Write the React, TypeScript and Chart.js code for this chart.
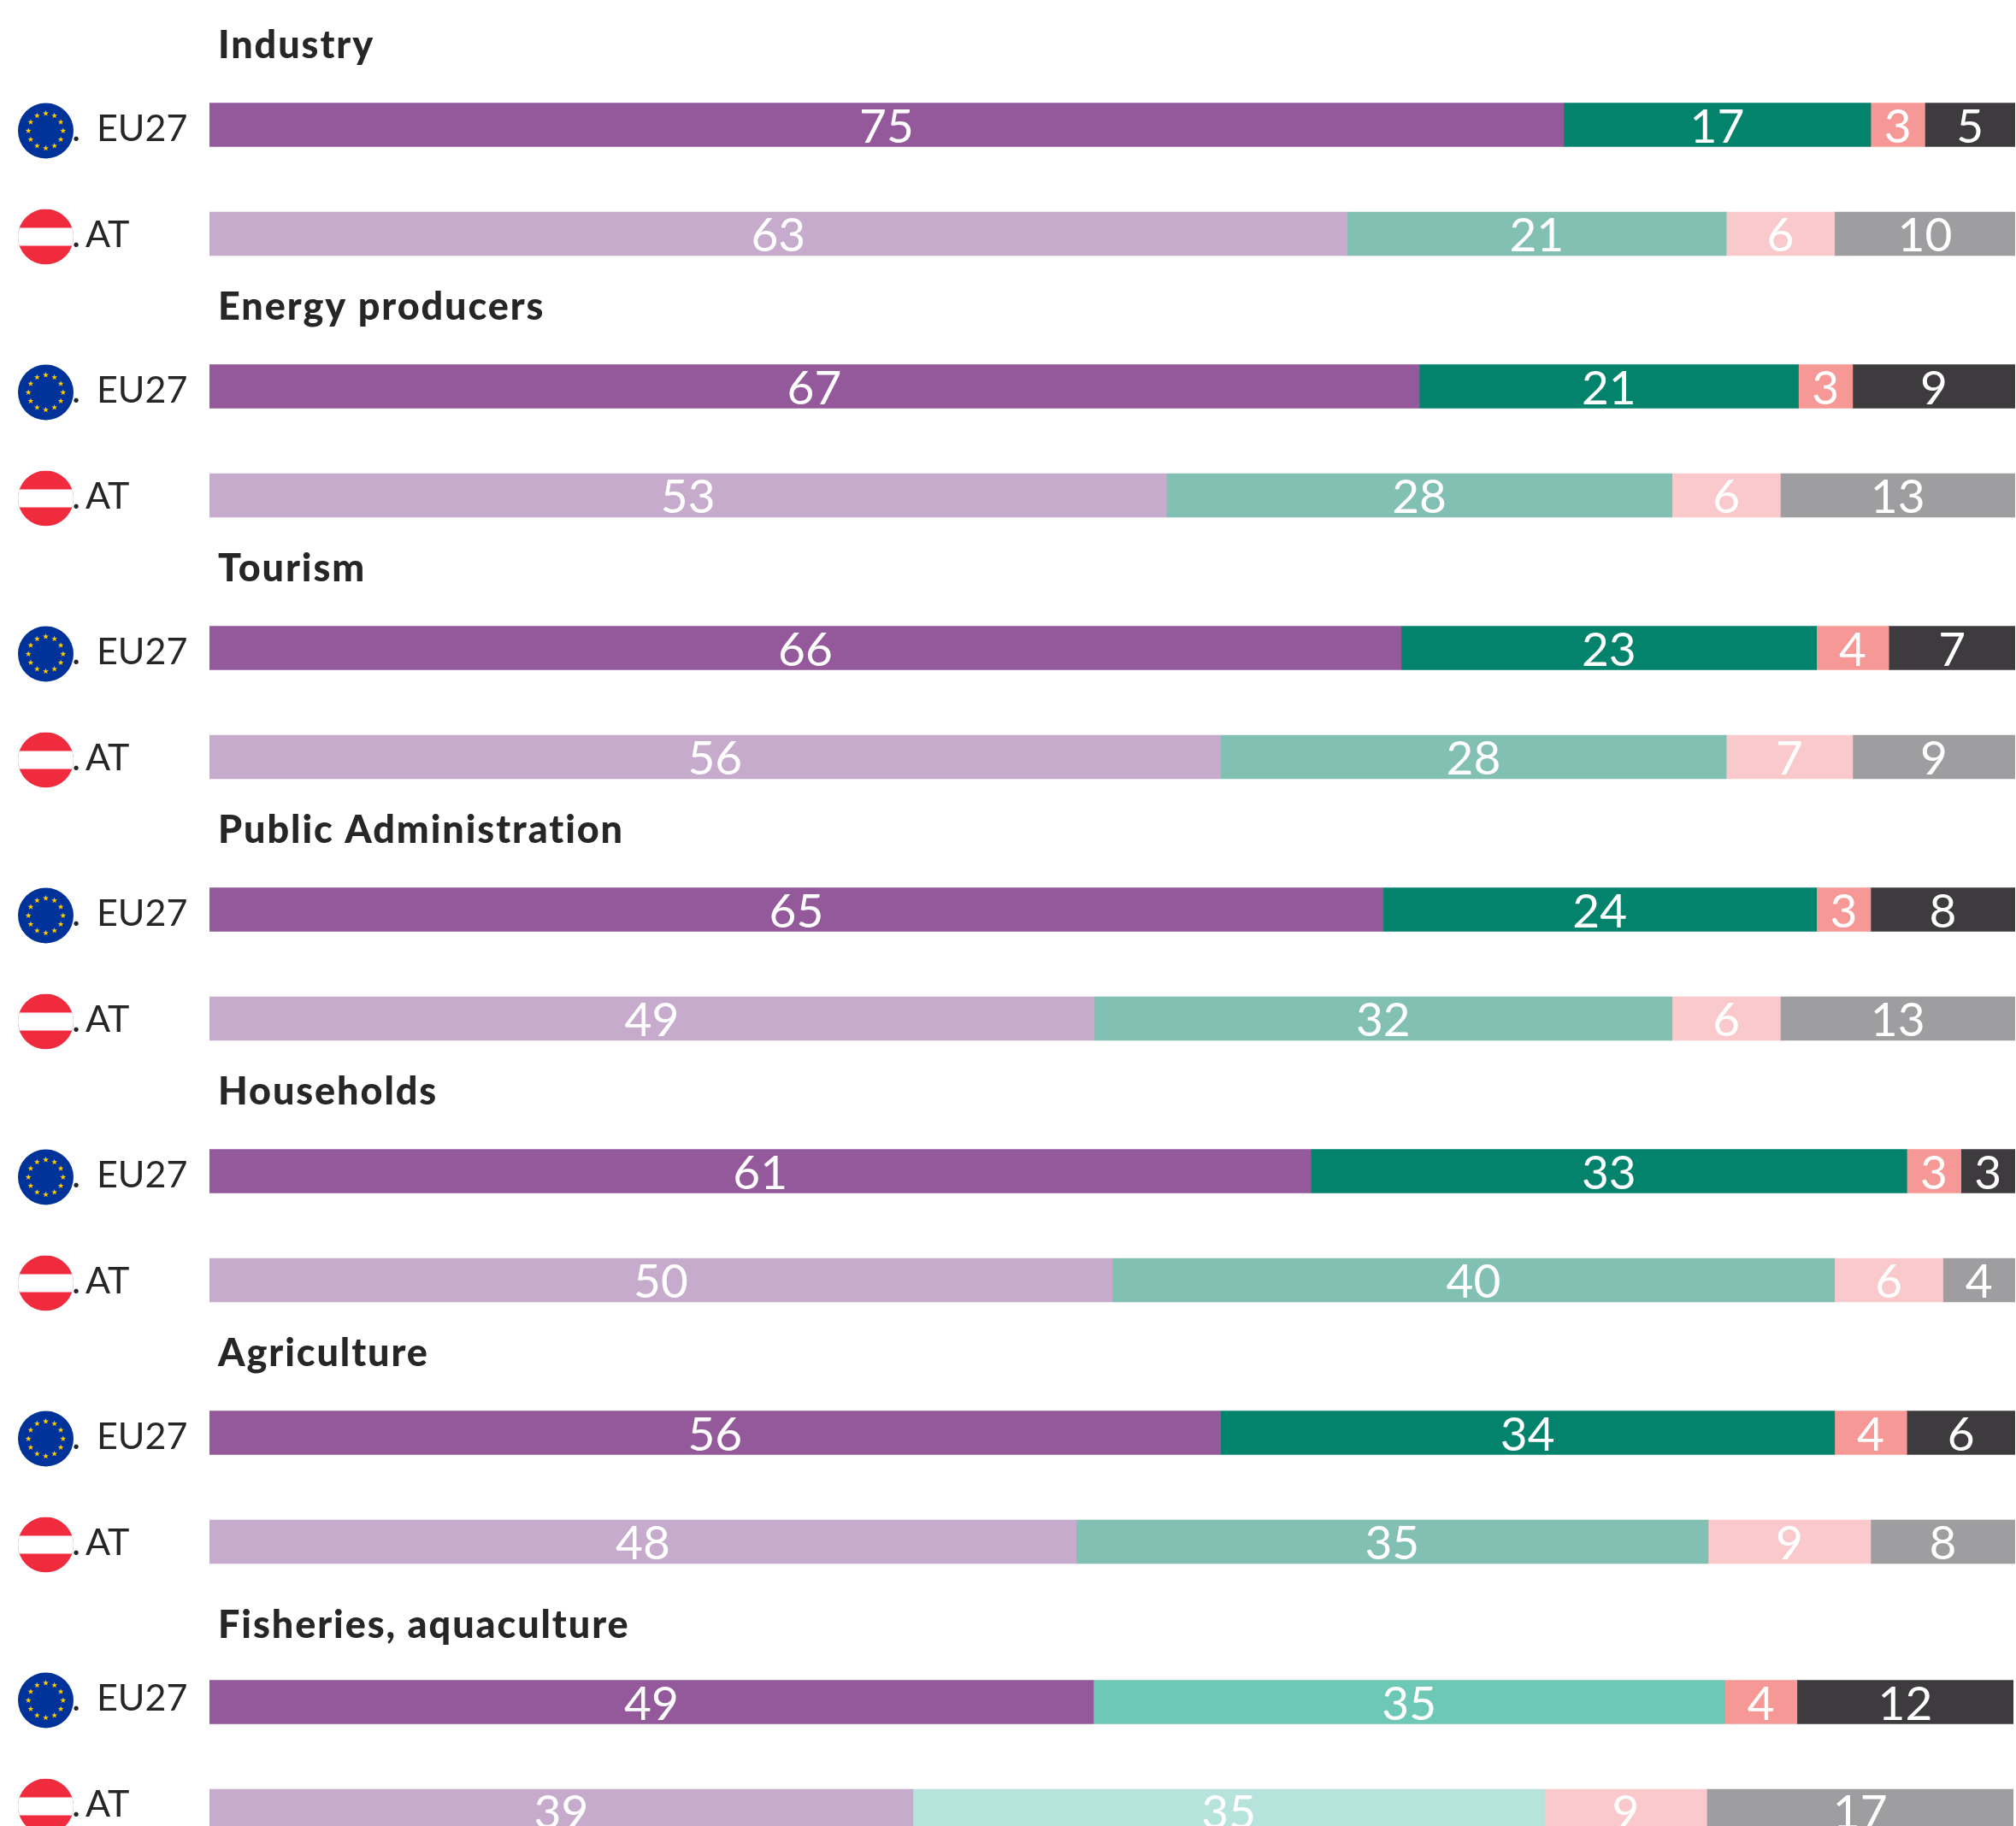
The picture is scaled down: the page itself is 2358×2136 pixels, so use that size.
import React, { useEffect, useRef } from "react";
import { Chart, registerables } from "chart.js";

Chart.register(...registerables);

const sectors = [
  "Industry",
  "Energy producers",
  "Tourism",
  "Public Administration",
  "Households",
  "Agriculture",
  "Fisheries, aquaculture",
];
const countries = ["EU27", "AT"];

// Each series holds [EU27, AT] pairs, one pair per sector.
const purpleValues = [[75, 63], [67, 53], [66, 56], [65, 49], [61, 50], [56, 48], [49, 39]];
const greenValues = [[17, 21], [21, 28], [23, 28], [24, 32], [33, 40], [34, 35], [35, 35]];
const pinkValues = [[3, 6], [3, 6], [4, 7], [3, 6], [3, 6], [4, 9], [4, 9]];
const greyValues = [[5, 10], [9, 13], [7, 9], [8, 13], [3, 4], [6, 8], [12, 17]];

const purpleColors = ["#93599B", "#C6ABCD"];
const greenColors = ["#03836B", "#82C0B3"];
const lightGreenColors = ["#6EC8B6", "#B6E3DC"];
const pinkColors = ["#F69896", "#F9C9CB"];
const greyColors = ["#3E3B3F", "#9E9EA0"];

const FONT = "Lato, 'Noto Sans', sans-serif";
const INK = "#262626";
const GROUP_STEP = 306;
const CANVAS_H = 350;
const PLOT_LEFT = 245;
const BAND = 127.5;
const PLOT_TOP = 82.25;

function drawStar(ctx: CanvasRenderingContext2D, cx: number, cy: number, r: number) {
  ctx.beginPath();
  for (let i = 0; i < 10; i++) {
    const rad = i % 2 === 0 ? r : r * 0.4;
    const a = -Math.PI / 2 + (i * Math.PI) / 5;
    const x = cx + rad * Math.cos(a);
    const y = cy + rad * Math.sin(a);
    if (i === 0) ctx.moveTo(x, y);
    else ctx.lineTo(x, y);
  }
  ctx.closePath();
  ctx.fill();
}

function drawEuFlag(ctx: CanvasRenderingContext2D, cx: number, cy: number, r: number) {
  ctx.fillStyle = "#003399";
  ctx.beginPath();
  ctx.arc(cx, cy, r, 0, Math.PI * 2);
  ctx.fill();
  ctx.fillStyle = "#FFCC00";
  for (let i = 0; i < 12; i++) {
    const a = (i * Math.PI) / 6;
    drawStar(ctx, cx + 20.3 * Math.cos(a), cy + 20.3 * Math.sin(a), 3.6);
  }
}

function drawAtFlag(ctx: CanvasRenderingContext2D, cx: number, cy: number, r: number) {
  ctx.save();
  ctx.beginPath();
  ctx.arc(cx, cy, r, 0, Math.PI * 2);
  ctx.clip();
  ctx.fillStyle = "#EF2B3D";
  ctx.fillRect(cx - r, cy - r, r * 2, r * 2);
  ctx.fillStyle = "#FFFFFF";
  ctx.fillRect(cx - r, cy - r + 22, r * 2, 21);
  ctx.restore();
}

type Props = { index: number };

function SectorChart({ index }: Props) {
  const ref = useRef<HTMLCanvasElement | null>(null);
  const last = index === sectors.length - 1;
  const barShift = last ? 9 : 0;
  const headerShift = last ? 12 : 0;
  const plotRight = last ? 3 : 1;

  useEffect(() => {
    if (!ref.current) return;
    const overlay = {
      id: "overlay",
      afterDatasetsDraw(chart: any) {
        const { ctx } = chart;
        const yScale = chart.scales.y;
        ctx.save();
        // Value labels
        ctx.font = `400 55px ${FONT}`;
        ctx.fillStyle = "#FFFFFF";
        ctx.textAlign = "center";
        ctx.textBaseline = "middle";
        chart.data.datasets.forEach((ds: any, d: number) => {
          chart.getDatasetMeta(d).data.forEach((el: any, i: number) => {
            const cx = (el.base + el.x) / 2;
            ctx.fillText(String(ds.data[i]), cx, el.y + 3);
          });
        });
        // Sector heading
        ctx.font = `900 45px ${FONT}`;
        ctx.letterSpacing = "1.9px";
        ctx.fillStyle = INK;
        ctx.textAlign = "left";
        ctx.textBaseline = "alphabetic";
        ctx.fillText(sectors[index], 255, 68 + headerShift);
        ctx.letterSpacing = "0px";
        // Country labels and flags
        const labels = yScale.getLabels();
        labels.forEach((label: string, i: number) => {
          const y = yScale.getPixelForValue(i) - barShift;
          ctx.font = `400 43px ${FONT}`;
          ctx.fillStyle = INK;
          ctx.textBaseline = "alphabetic";
          ctx.textAlign = "left";
          const isEu = label === countries[0];
          const base = isEu ? y + 19 : y + 15;
          ctx.fillText(label, isEu ? 113 : 100, base);
          ctx.fillText(".", 84, isEu ? y + 19 : y + 15);
          if (isEu) drawEuFlag(ctx, 53.5, y + 7, 32.5);
          else drawAtFlag(ctx, 53.5, y + 3.5, 32.5);
        });
        ctx.restore();
      },
    };
    const green = last ? lightGreenColors : greenColors;
    const chart = new Chart(ref.current, {
      type: "bar",
      data: {
        labels: countries,
        datasets: [
          { label: "purple", data: purpleValues[index], backgroundColor: purpleColors },
          { label: "green", data: greenValues[index], backgroundColor: green },
          { label: "pink", data: pinkValues[index], backgroundColor: pinkColors },
          { label: "grey", data: greyValues[index], backgroundColor: greyColors },
        ],
      },
      options: {
        indexAxis: "y",
        animation: false,
        responsive: false,
        devicePixelRatio: 1,
        barThickness: 51,
        layout: {
          padding: {
            left: 0,
            right: plotRight,
            top: PLOT_TOP + barShift,
            bottom: CANVAS_H - (PLOT_TOP + barShift + BAND * 2),
          },
        },
        plugins: { legend: { display: false }, tooltip: { enabled: false } },
        scales: {
          x: { stacked: true, min: 0, max: 100, display: false },
          y: {
            stacked: true,
            grid: { display: false },
            border: { display: false },
            ticks: { display: false },
            afterFit(scale: any) {
              scale.width = PLOT_LEFT;
            },
          },
        },
      },
      plugins: [overlay],
    } as any);
    return () => chart.destroy();
  }, [index]);

  return (
    <canvas
      ref={ref}
      width={2358}
      height={CANVAS_H}
      style={{ position: "absolute", left: 0, top: index * GROUP_STEP, display: "block" }}
    />
  );
}

export default function App() {
  return (
    <div
      style={{
        position: "fixed",
        left: 0,
        top: 0,
        width: 2358,
        height: 2136,
        overflow: "hidden",
        background: "#fff",
      }}
    >
      {sectors.map((s, i) => (
        <SectorChart key={s} index={i} />
      ))}
    </div>
  );
}
